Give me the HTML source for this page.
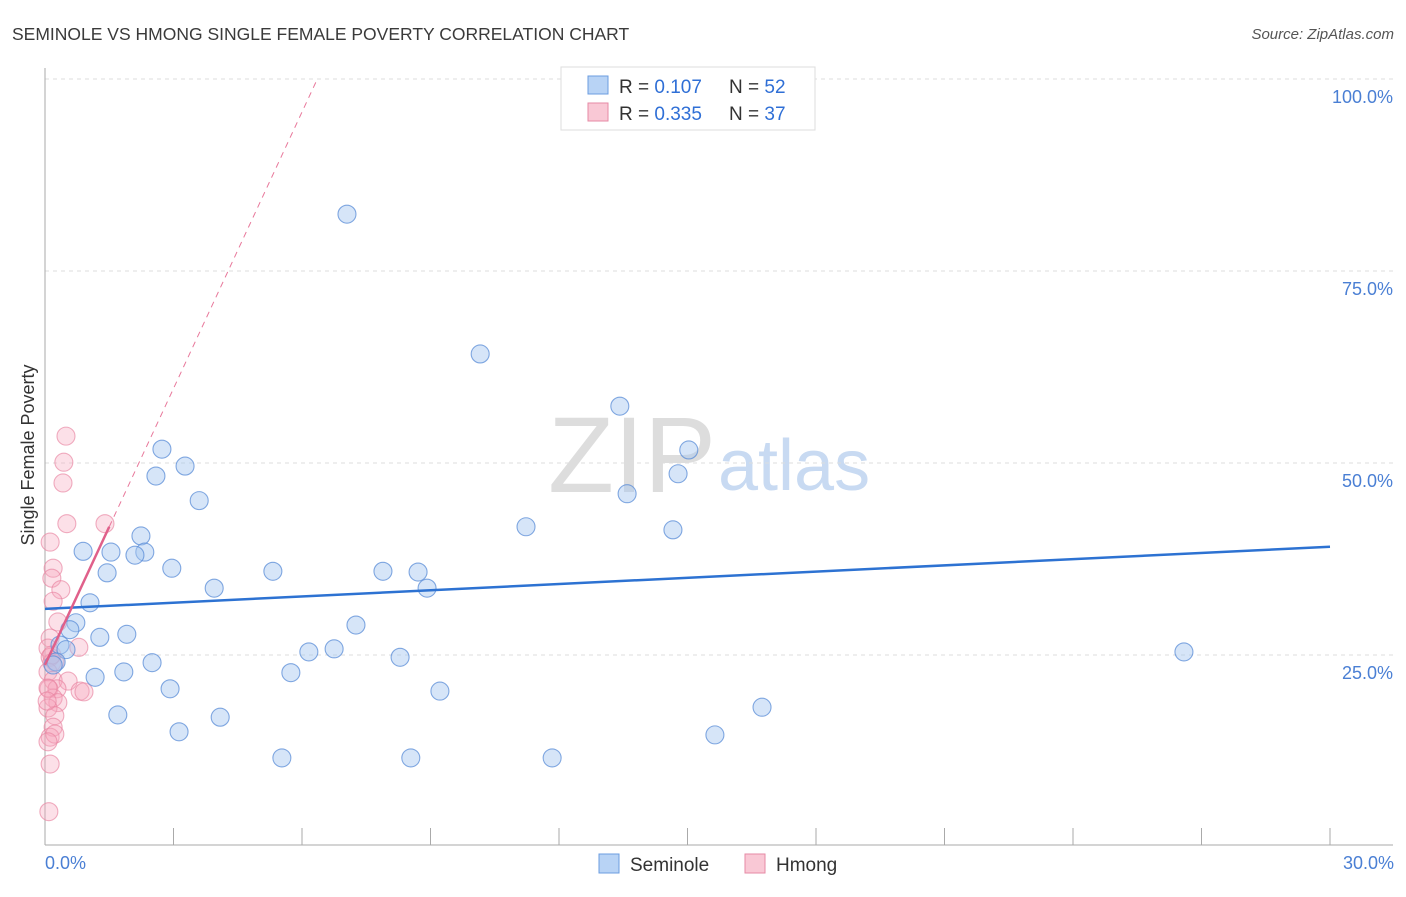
<!DOCTYPE html>
<html><head><meta charset="utf-8"><style>
body{margin:0;background:#fff;font-family:"Liberation Sans",sans-serif;}
svg text{font-family:"Liberation Sans",sans-serif;}
</style></head><body>
<svg width="1406" height="892" xmlns="http://www.w3.org/2000/svg">
<text x="12" y="40" font-size="17.5" fill="#3a3a3a">SEMINOLE VS HMONG SINGLE FEMALE POVERTY CORRELATION CHART</text>
<text x="1394" y="39" font-size="15" fill="#555" font-style="italic" text-anchor="end">Source: ZipAtlas.com</text>
<text x="716" y="492" font-size="108" fill="#ddd" text-anchor="end" font-family="Liberation Serif">ZIP</text>
<text x="718" y="490" font-size="72" fill="#c8daf2">atlas</text>
<g id="grid"></g>
<g id="marks"></g>
<text transform="translate(34,455) rotate(-90)" font-size="18" fill="#333" text-anchor="middle">Single Female Poverty</text>
<text x="45" y="869" font-size="18" fill="#4a7fd4">0.0%</text>
<text x="1394" y="869" font-size="18" fill="#4a7fd4" text-anchor="end">30.0%</text>
<g>
<rect x="561" y="67" width="254" height="63" fill="#fff" stroke="#ddd"/>
<rect x="588" y="76" width="20" height="18" fill="#b8d3f5" stroke="#6b9de0"/>
<rect x="588" y="103" width="20" height="18" fill="#f9c8d5" stroke="#e68aa5"/>
<text x="619" y="93" font-size="19" fill="#333">R = <tspan fill="#2f6fd6">0.107</tspan><tspan x="729">N = </tspan><tspan fill="#2f6fd6">52</tspan></text>
<text x="619" y="120" font-size="19" fill="#333">R = <tspan fill="#2f6fd6">0.335</tspan><tspan x="729">N = </tspan><tspan fill="#2f6fd6">37</tspan></text>
</g>
<g>
<rect x="599" y="854" width="20" height="19" fill="#b8d3f5" stroke="#6b9de0"/>
<text x="630" y="871" font-size="19" fill="#333">Seminole</text>
<rect x="745" y="854" width="20" height="19" fill="#f9c8d5" stroke="#e68aa5"/>
<text x="776" y="871" font-size="19" fill="#333">Hmong</text>
</g>
</svg>
<script>
const yTicks=[25,50,75,100];
const yTickLabels=["25.0%","50.0%","75.0%","100.0%"];
const xTicks=[3,6,9,12,15,18,21,24,27,30];
const seminoleX=[7.05,10.16,13.42,2.73,15.03,3.27,2.59,14.78,13.59,3.60,11.23,14.66,2.24,0.89,1.54,2.33,2.10,1.45,2.96,5.32,7.89,8.71,3.95,8.92,1.05,7.26,0.72,0.58,1.28,1.91,0.35,0.49,6.16,6.75,8.29,2.50,0.26,0.19,1.84,5.74,1.17,2.92,9.22,16.74,1.70,4.09,3.13,15.64,5.53,8.54,11.84,26.59];
const seminoleY=[82.4,64.2,57.4,51.8,51.7,49.6,48.3,48.6,46.0,45.1,41.7,41.3,40.5,38.5,38.4,38.4,38.0,35.7,36.3,35.9,35.9,35.8,33.7,33.7,31.8,28.9,29.2,28.3,27.3,27.7,26.3,25.7,25.4,25.8,24.7,24.0,24.1,23.7,22.8,22.7,22.1,20.6,20.3,18.2,17.2,16.9,15.0,14.6,11.6,11.6,11.6,25.4];
const hmongX=[0.49,0.44,0.42,0.51,1.40,0.12,0.19,0.16,0.37,0.19,0.30,0.12,0.07,0.79,0.12,0.16,0.23,0.07,0.19,0.54,0.09,0.28,0.82,0.91,0.19,0.30,0.07,0.23,0.19,0.12,0.23,0.07,0.12,0.09,0.07,0.16,0.05];
const hmongY=[53.5,50.1,47.4,42.1,42.1,39.7,36.3,35.0,33.5,32.0,29.3,27.2,25.9,26.0,24.7,24.0,24.1,22.8,21.7,21.6,20.6,20.6,20.3,20.2,19.4,18.8,18.1,17.1,15.6,14.3,14.7,13.7,10.8,4.6,20.7,25.0,19.0];
const seminoleTrend=[31.0,39.1];
const hmongTrend=[23.7,12.0];
const NS="http://www.w3.org/2000/svg";
const sx=v=>45+v*(1285/30);
const sy=v=>847-v*7.68;
function mk(t,a,p){const e=document.createElementNS(NS,t);for(const k in a)e.setAttribute(k,a[k]);p.appendChild(e);return e;}
const grid=document.getElementById('grid'),marks=document.getElementById('marks');
yTicks.forEach((t,i)=>{
  const l=mk('line',{x1:45,x2:1393,y1:sy(t),y2:sy(t),stroke:'#ddd','stroke-dasharray':'4,4'},grid);
  
  
  const tx=mk('text',{x:1393,y:sy(t)+24,'font-size':18,fill:'#4a7fd4','text-anchor':'end'},grid);
  tx.textContent=yTickLabels[i];
  
  
});
const ax=mk('line',{x1:45,x2:45,y1:68,y2:845,stroke:'#aaa'},grid);


const bx=mk('line',{x1:45,x2:1393,y1:845,y2:845,stroke:'#aaa'},grid);


xTicks.forEach(t=>{
  const l=mk('line',{x1:sx(t),x2:sx(t),y1:828,y2:845,stroke:'#aaa'},grid);
  
  
});
hmongX.forEach((x,i)=>{
  const c=mk('circle',{cx:sx(x),cy:sy(hmongY[i]),r:9,fill:'rgba(245,165,190,0.35)',stroke:'rgba(232,130,160,0.65)','stroke-width':1.1},marks);
  
  
});
seminoleX.forEach((x,i)=>{
  const c=mk('circle',{cx:sx(x),cy:sy(seminoleY[i]),r:9,fill:'rgba(165,198,240,0.45)',stroke:'rgba(90,140,215,0.75)','stroke-width':1.1},marks);
  
  
});
const st=mk('line',{x1:sx(0),y1:sy(seminoleTrend[0]),x2:sx(30),y2:sy(seminoleTrend[1]),stroke:'#2d72d2','stroke-width':2.5},marks);


const xEnd=(100-hmongTrend[0])/hmongTrend[1];
const hd=mk('line',{x1:sx(1.5),y1:sy(hmongTrend[0]+hmongTrend[1]*1.5),x2:sx(xEnd),y2:sy(100),stroke:'#e8789b','stroke-width':1,'stroke-dasharray':'6,5'},marks);


const hs=mk('line',{x1:sx(0),y1:sy(hmongTrend[0]),x2:sx(1.5),y2:sy(hmongTrend[0]+hmongTrend[1]*1.5),stroke:'#e0608a','stroke-width':2.5},marks);


</script>
</body></html>
